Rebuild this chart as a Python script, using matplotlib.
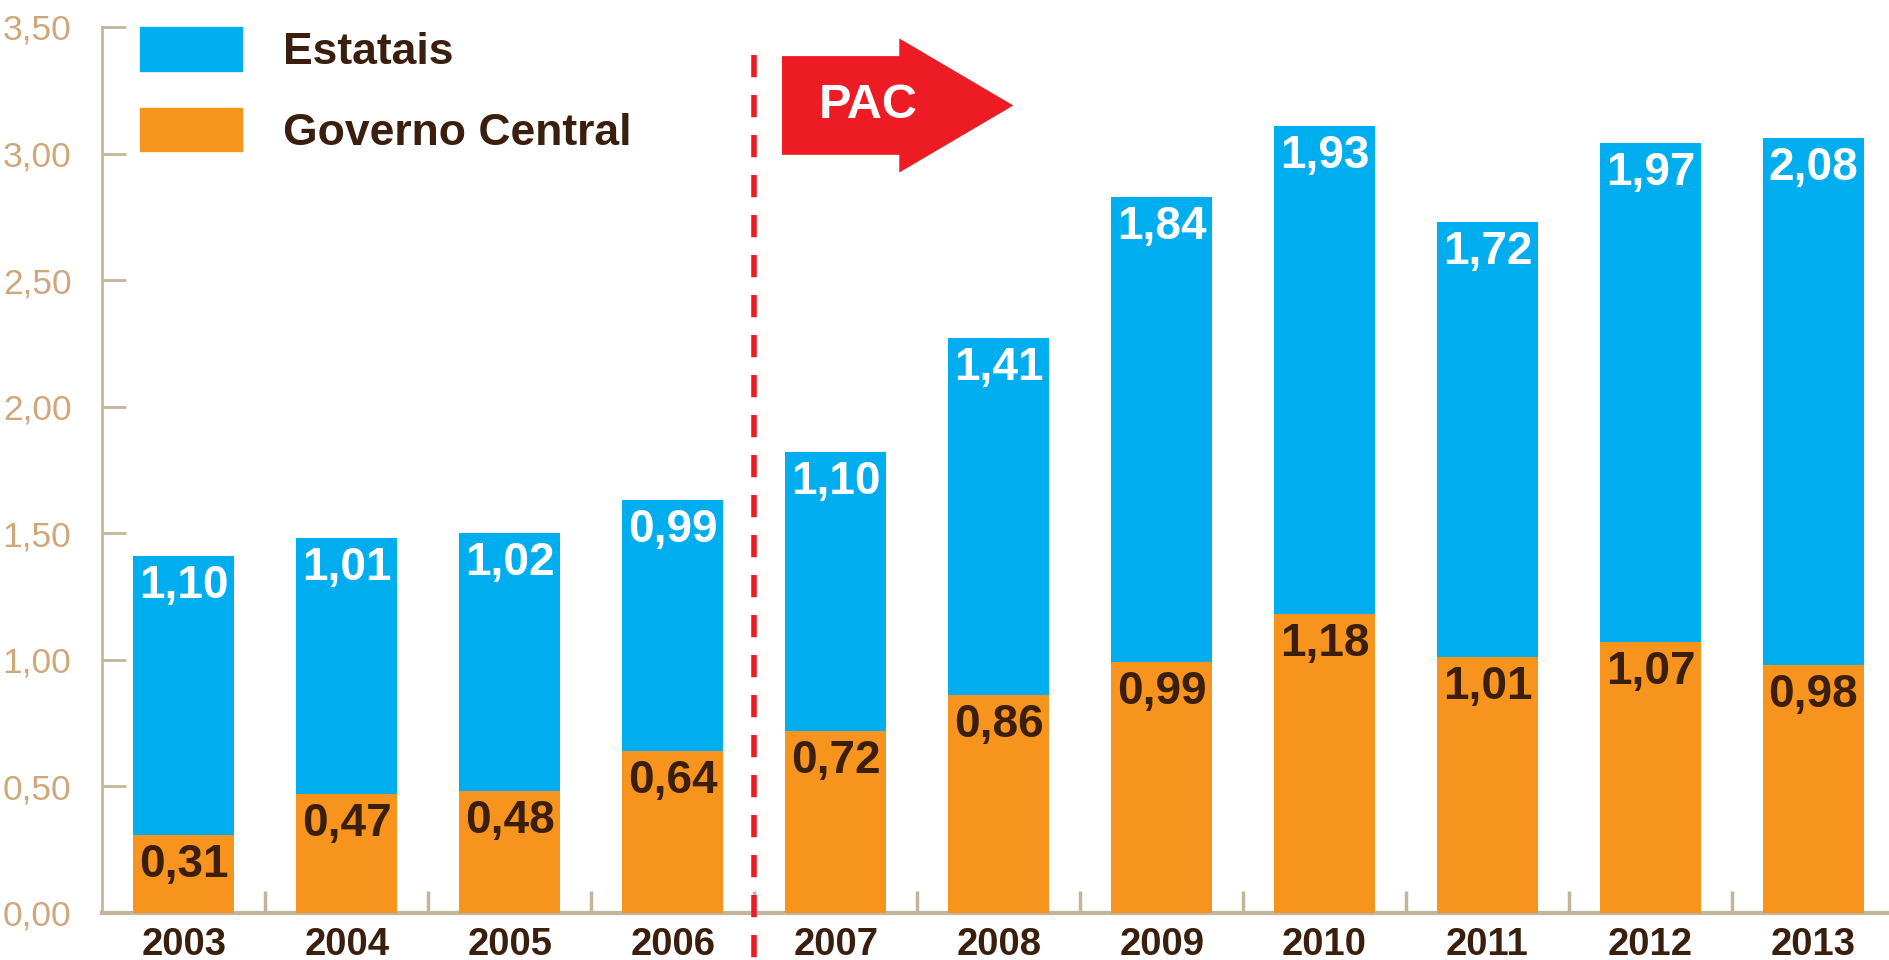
import matplotlib
matplotlib.use("Agg")
import numpy as np
import matplotlib.pyplot as plt
from matplotlib.patches import Patch, FancyArrow
from matplotlib.ticker import FixedLocator

plt.rcParams['font.family'] = ['Liberation Sans', 'DejaVu Sans']

years = ['2003', '2004', '2005', '2006', '2007', '2008', '2009', '2010', '2011', '2012', '2013']
governo_central = [0.31, 0.47, 0.48, 0.64, 0.72, 0.86, 0.99, 1.18, 1.01, 1.07, 0.98]
estatais = [1.10, 1.01, 1.02, 0.99, 1.10, 1.41, 1.84, 1.93, 1.72, 1.97, 2.08]
y_ticks = [0.0, 0.5, 1.0, 1.5, 2.0, 2.5, 3.0, 3.5]

BLUE = '#00aeef'
ORANGE = '#f7941d'
RED = '#ed1c24'
TAN = '#c2b59b'
TAN_TXT = '#cfa77a'
BROWN = '#3b1f0e'

def fmt(v):
    return f"{v:.2f}".replace('.', ',')

fig = plt.figure(figsize=(18.9, 9.6), dpi=100)
ax = fig.add_axes([102/1890, 47/960, 1788/1890, 886/960])

x = np.arange(len(years))
w = 0.62
gc = np.array(governo_central)
es = np.array(estatais)
ax.bar(x, gc, w, color=ORANGE, zorder=3, label='Governo Central')
ax.bar(x, es, w, bottom=gc, color=BLUE, zorder=3, label='Estatais')

# rótulos dentro das barras
for xi, g, e in zip(x, gc, es):
    ax.annotate(fmt(e), (xi, g + e), xytext=(0, -30), textcoords='offset pixels',
                ha='center', va='center', color='white', fontsize=33,
                fontweight='bold', zorder=4)
    ax.annotate(fmt(g), (xi, g), xytext=(0, -30), textcoords='offset pixels',
                ha='center', va='center', color=BROWN, fontsize=33,
                fontweight='bold', zorder=4)

ax.set_xlim(-0.503, 10.47)
ax.set_ylim(0, 3.5)

for s in ['top', 'right']:
    ax.spines[s].set_visible(False)
ax.spines['left'].set_color(TAN)
ax.spines['left'].set_linewidth(2)
ax.spines['bottom'].set_color(TAN)
ax.spines['bottom'].set_linewidth(3)

ax.set_yticks(y_ticks)
ax.set_yticklabels([fmt(v) for v in y_ticks])
ax.tick_params(axis='y', direction='in', length=17, width=2, color=TAN,
               labelcolor=TAN_TXT, labelsize=25.5, pad=22)

ax.set_xticks(x)
ax.set_xticklabels(years, fontweight='bold')
ax.tick_params(axis='x', which='major', length=0, labelcolor=BROWN,
               labelsize=27.5, pad=10)
ax.xaxis.set_minor_locator(FixedLocator(np.arange(len(years) - 1) + 0.5))
ax.tick_params(axis='x', which='minor', direction='in', length=16, width=2.5, color=TAN)

# linha tracejada PAC
ax.plot([3.5, 3.5], [3.39, -0.2], color=RED, lw=4, ls=(0, (4, 3.2)),
        clip_on=False, zorder=5)

arrow = FancyArrow(3.67, 3.19, 1.42, 0, width=0.39, head_width=0.53,
                   head_length=0.70, length_includes_head=True,
                   color=RED, lw=0, zorder=5)
ax.add_patch(arrow)
ax.text(4.2, 3.19, 'PAC', ha='center', va='center', color='white',
        fontsize=35, fontweight='bold', zorder=6)

handles = [Patch(color=BLUE, label='Estatais'),
           Patch(color=ORANGE, label='Governo Central')]
leg = ax.legend(handles=handles, loc='upper left', bbox_to_anchor=(0.021, 1.0),
                frameon=False, borderpad=0, borderaxespad=0,
                prop={'size': 32, 'weight': 'bold'},
                handlelength=2.3, handleheight=1.14,
                labelspacing=0.78, handletextpad=0.93)
for t in leg.get_texts():
    t.set_color(BROWN)

fig.savefig('out.png', dpi=100)
